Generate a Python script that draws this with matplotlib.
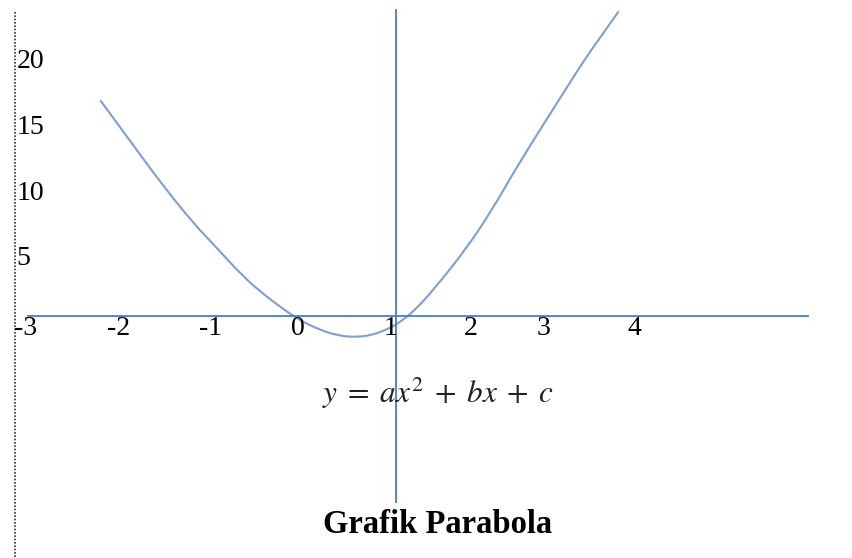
import numpy as np
import matplotlib
matplotlib.use("Agg")
import matplotlib.pyplot as plt
from matplotlib.path import Path
from matplotlib.patches import PathPatch

# curve (chart units)
curve_x = [-2.23, -1.92, -1.53, -1.16, -0.96, -0.61, -0.34, -0.11, 0.03,
           0.26, 0.49, 0.68, 0.86, 1.06, 1.17, 1.32, 1.55, 1.93, 2.23,
           2.51, 2.99, 3.25, 3.44, 3.65]
curve_y = [16.54, 13.69, 10.08, 7.00, 5.60, 3.00, 1.46, 0.31, -0.31,
           -1.08, -1.54, -1.62, -1.46, -0.92, -0.46, 0.31, 2.00, 5.23, 8.31,
           11.62, 16.77, 19.54, 21.38, 23.38]

xtick_labels = ['-3', '-2', '-1', '0', '1', '2', '3', '4']
xtick_pos = [-3.08, -2.03, -0.98, 0.01, 1.06, 1.97, 2.80, 3.83]
ytick_labels = ['20', '15', '10', '5']
ytick_pos = [19.1, 14.0, 8.9, 3.9]

equation = r'$y\;=\;ax^2\;+\;bx\;+\;c$'
title = 'Grafik Parabola'

axis_col = '#4a7cc4'
curve_col = '#7d9fd4'

fig = plt.figure(figsize=(8.52, 5.58), dpi=100)
ax = fig.add_axes([0, 0, 1, 1])
ax.set_xlim(-297 / 88, 555 / 88)
ax.set_ylim(-242 / 13, 316 / 13)
ax.axis('off')

# left dotted border
ax.plot([-3.2, -3.2], [23.4, -20], color='#333333', lw=1.2, ls=(0, (1, 1)))

# axis lines
ax.plot([-3.06, 5.81], [0, 0], color=axis_col, lw=1.3)
ax.plot([1.125, 1.125], [23.54, -14.31], color=axis_col, lw=1.3)

# smooth curve: read points used as quadratic control points
pts = np.column_stack([curve_x, curve_y])
verts = [pts[0]]
codes = [Path.MOVETO]
for i in range(1, len(pts) - 1):
    mid = (pts[i] + pts[i + 1]) / 2
    verts += [pts[i], mid if i < len(pts) - 2 else pts[i + 1]]
    codes += [Path.CURVE3, Path.CURVE3]
ax.add_patch(PathPatch(Path(verts, codes), fill=False, edgecolor=curve_col,
                       lw=1.5, capstyle='round'))

serif = ['Liberation Serif', 'DejaVu Serif']
for lab, p in zip(xtick_labels, xtick_pos):
    ax.text(p, -1.46, lab, ha='center', va='baseline', fontsize=20, family=serif)
for lab, p in zip(ytick_labels, ytick_pos):
    ax.text(-3.19, p, lab, ha='left', va='baseline', fontsize=20, family=serif)

plt.rcParams['mathtext.fontset'] = 'stix'
ax.text(1.6, -6.69, equation, ha='center', va='baseline', fontsize=22.5, color='#222222')
ax.text(1.6, -16.7, title, ha='center', va='baseline', fontsize=23.5,
        fontweight='bold', family=serif)

fig.savefig('out.png', dpi=100)
